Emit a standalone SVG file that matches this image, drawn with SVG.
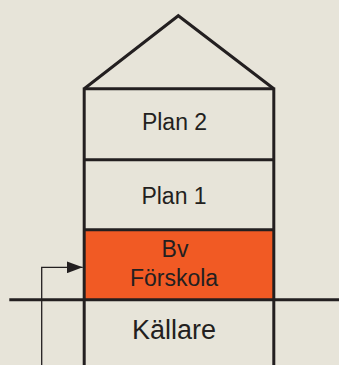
<svg xmlns="http://www.w3.org/2000/svg" width="339" height="365" viewBox="0 0 339 365">
  <defs>
    <style>
      .wall { stroke: #231f20; stroke-width: 3; fill: none; }
      .lbl { font-family: "Liberation Sans", Arial, sans-serif; fill: #231f20; text-anchor: middle; }
      .conn { stroke: #231f20; stroke-width: 1.3; fill: none; }
    </style>
    <marker id="arrow" markerUnits="userSpaceOnUse" markerWidth="17" markerHeight="12" refX="16" refY="6" orient="auto">
      <path d="M0,0 L16,6 L0,12 Z" fill="#231f20"/>
    </marker>
  </defs>
  <rect width="339" height="365" fill="#e7e4d9"/>
  <g id="forskola">
    <rect x="84" y="229.7" width="189.8" height="70" fill="#f15a24"/>
    <text class="lbl" x="175" y="257" font-size="23">Bv</text>
    <text class="lbl" x="174" y="286.3" font-size="23">Förskola</text>
  </g>
  <g id="roof">
    <polyline class="wall" stroke-linejoin="miter" points="84.2,88.7 178.3,15.7 273.8,88.7"/>
  </g>
  <g id="plan2">
    <line class="wall" x1="84.2" y1="88.7" x2="273.8" y2="88.7"/>
    <text class="lbl" x="174.5" y="130" font-size="23">Plan 2</text>
  </g>
  <g id="plan1">
    <line class="wall" x1="84.2" y1="159.8" x2="273.8" y2="159.8"/>
    <text class="lbl" x="174" y="204" font-size="23">Plan 1</text>
  </g>
  <g id="floor">
    <line class="wall" x1="84.2" y1="229.7" x2="273.8" y2="229.7"/>
  </g>
  <g id="kallare">
    <line class="wall" x1="9.3" y1="299.8" x2="339" y2="299.8"/>
    <text class="lbl" x="174" y="339.3" font-size="27">Källare</text>
  </g>
  <g id="walls">
    <line class="wall" x1="84.2" y1="87.5" x2="84.2" y2="365"/>
    <line class="wall" x1="273.8" y1="87.5" x2="273.8" y2="365"/>
  </g>
  <g id="connectors">
    <polyline class="conn" points="41.7,365 41.7,267.3 82.7,267.3" marker-end="url(#arrow)"/>
  </g>
</svg>
